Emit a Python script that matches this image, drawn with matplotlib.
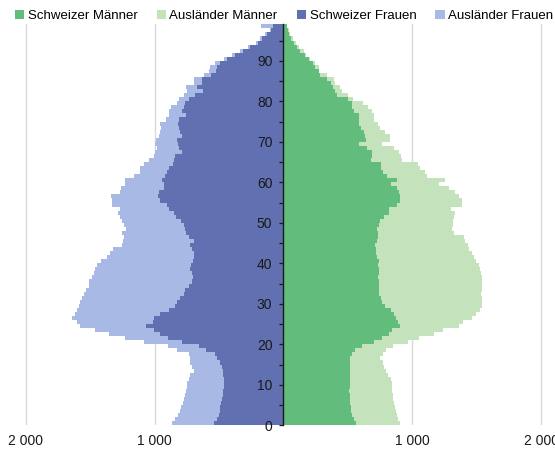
import matplotlib
matplotlib.use("Agg")
import matplotlib.pyplot as plt
from matplotlib.patches import Patch
from matplotlib.ticker import FuncFormatter

plt.rcParams['font.family'] = ['Liberation Sans', 'DejaVu Sans']

# age 0..98
ages = list(range(99))

schweizer_frauen = [
    537, 516, 503, 495, 490, 482, 477, 472, 470, 464,
    464, 464, 470, 472, 477, 490, 516, 529, 598, 658,
    787, 895, 955, 1006, 1063, 1011, 1006, 955, 890, 839,
    826, 800, 774, 761, 735, 710, 702, 710, 722, 717,
    702, 691, 697, 710, 722, 697, 735, 753, 761, 774,
    795, 831, 851, 885, 903, 955, 975, 968, 929, 929,
    942, 916, 903, 890, 857, 851, 839, 784, 813, 820,
    826, 787, 800, 813, 818, 813, 753, 787, 774, 761,
    735, 684, 624, 671, 632, 632, 562, 521, 516, 495,
    439, 374, 315, 258, 201, 168, 129, 98, 80]
auslaender_frauen = [
    325, 322, 317, 310, 302, 297, 292, 289, 284, 284,
    284, 271, 253, 224, 232, 232, 212, 206, 227, 237,
    297, 335, 400, 459, 511, 588, 637, 662, 709, 743,
    748, 761, 774, 774, 774, 800, 782, 759, 736, 728,
    710, 681, 650, 611, 529, 547, 503, 497, 457, 464,
    459, 433, 431, 384, 426, 374, 361, 297, 328, 297,
    284, 245, 212, 225, 222, 194, 168, 214, 168, 178,
    160, 181, 155, 137, 137, 98, 137, 103, 98, 65,
    72, 90, 124, 85, 65, 65, 57, 59, 57, 34,
    26, 26, 21, 18, 15, 13, 13, 10, 95]
schweizer_maenner = [
    562, 544, 531, 523, 523, 518, 513, 512, 510, 513,
    518, 518, 513, 513, 515, 515, 518, 531, 557, 609,
    702, 764, 816, 842, 901, 888, 873, 855, 837, 790,
    764, 756, 743, 738, 738, 738, 733, 738, 738, 733,
    738, 725, 717, 717, 712, 725, 733, 733, 725, 738,
    751, 777, 816, 816, 881, 907, 907, 894, 881, 834,
    881, 803, 769, 756, 756, 681, 686, 686, 648, 588,
    640, 635, 622, 603, 583, 583, 583, 544, 531, 531,
    500, 414, 401, 381, 370, 337, 285, 272, 246, 225,
    194, 163, 130, 104, 85, 57, 44, 34, 26]
auslaender_maenner = [
    339, 345, 350, 350, 342, 342, 337, 335, 334, 329,
    324, 319, 298, 282, 262, 254, 233, 241, 238, 241,
    262, 285, 350, 394, 458, 502, 591, 635, 684, 751,
    772, 780, 792, 798, 803, 798, 803, 790, 782, 782,
    751, 751, 744, 725, 720, 681, 663, 588, 585, 575,
    562, 544, 513, 479, 500, 474, 453, 435, 401, 370,
    370, 311, 326, 306, 287, 238, 228, 207, 207, 176,
    184, 189, 163, 148, 150, 117, 117, 142, 124, 83,
    36, 85, 52, 60, 31, 52, 52, 5, 26, 21,
    13, 10, 26, 13, 10, 13, 8, 5, 5]

labels = ["Schweizer Männer", "Ausländer Männer", "Schweizer Frauen", "Ausländer Frauen"]
colors = ["#62bc7c", "#c4e3bc", "#6070b0", "#a8b9e6"]

x_ticks = [-2000, -1000, 1000, 2000]
y_major = list(range(0, 100, 10))
y_minor = list(range(5, 100, 10))

fig = plt.figure(figsize=(5.55, 4.65), dpi=100)
ax = fig.add_axes([0, 39.7 / 465, 1, 401 / 465])

neg_sf = [-v for v in schweizer_frauen]
neg_af = [-v for v in auslaender_frauen]
ax.barh(ages, schweizer_maenner, height=1, align='edge', color=colors[0],
        linewidth=0, antialiased=False)
ax.barh(ages, auslaender_maenner, left=schweizer_maenner, height=1, align='edge',
        color=colors[1], linewidth=0, antialiased=False)
ax.barh(ages, neg_sf, height=1, align='edge', color=colors[2],
        linewidth=0, antialiased=False)
ax.barh(ages, neg_af, left=neg_sf, height=1, align='edge', color=colors[3],
        linewidth=0, antialiased=False)

for xv in x_ticks:
    ax.axvline(xv, color='#d9d9d9', linewidth=1, zorder=0)

ax.set_xlim(-2198, 2105)
ax.set_ylim(0, 99)

ax.set_xticks(x_ticks)
ax.xaxis.set_major_formatter(FuncFormatter(lambda v, p: f"{abs(v):,.0f}".replace(",", " ")))
ax.tick_params(axis='x', length=0, pad=6.5, labelsize=10, labelcolor='#1a1a1a')

ax.set_yticks(y_major)
ax.set_yticks(y_minor, minor=True)
ax.tick_params(axis='y', which='both', direction='out', length=3, width=0.9,
               color='#1a1a1a', pad=5, labelsize=10, labelcolor='#1a1a1a')

for s in ['top', 'right', 'bottom']:
    ax.spines[s].set_visible(False)
ax.spines['left'].set_position(('data', 0))
ax.spines['left'].set_color('#1a1a1a')
ax.spines['left'].set_linewidth(1.0)
ax.set_facecolor('none')

handles = [Patch(facecolor=c, edgecolor='none') for c in colors]
fig.legend(handles, labels, loc='center left', bbox_to_anchor=(15 / 555, 1 - 16 / 465),
           ncol=4, frameon=False, fontsize=9.5, handlelength=0.7, handleheight=0.7,
           handletextpad=0.27, columnspacing=1.45, borderpad=0, borderaxespad=0)

fig.savefig("out.png", dpi=100, facecolor='white')
